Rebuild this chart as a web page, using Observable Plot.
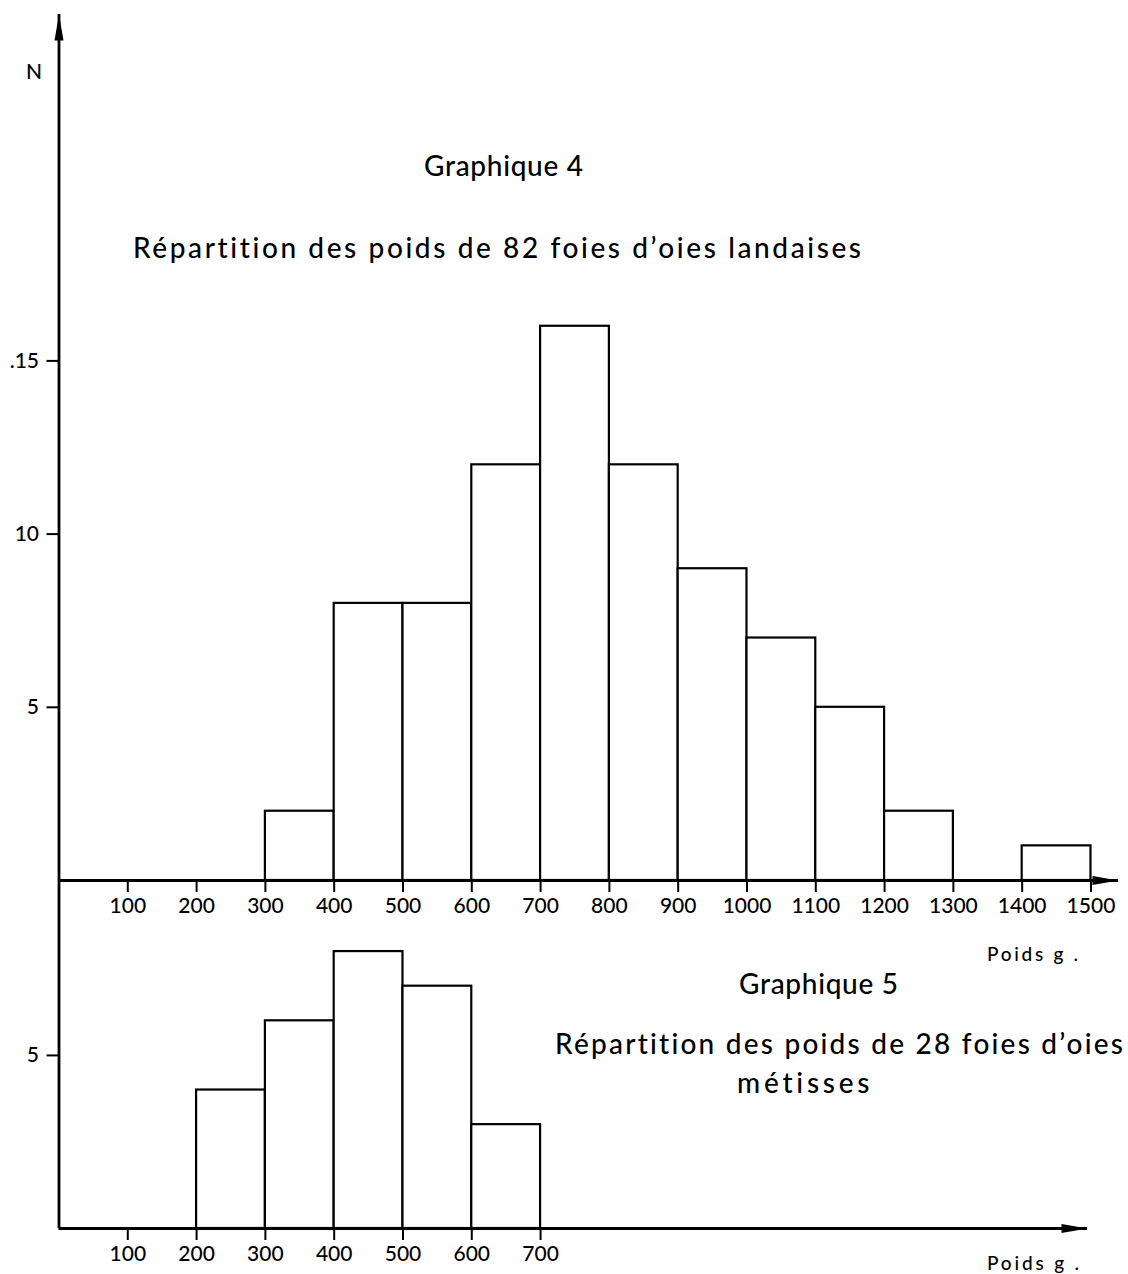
<!DOCTYPE html>
<html><head><meta charset="utf-8">
<script src="https://cdn.jsdelivr.net/npm/d3@7"></script>
<script src="https://cdn.jsdelivr.net/npm/@observablehq/plot@0.6"></script>
<style>
html,body{margin:0;padding:0;background:#fff;}
#wrap{position:relative;width:1128px;height:1274px;font-family:Lato,"DejaVu Sans",sans-serif;color:#000;overflow:hidden;}
#wrap svg{position:absolute;left:0;}
.lbl{position:absolute;white-space:nowrap;line-height:1;}
</style></head><body><div id="wrap"></div>
<script>
// ---- data ----
const binStart4 = [300, 400, 500, 600, 700, 800, 900, 1000, 1100, 1200, 1300, 1400];
const counts4   = [2, 8, 8, 12, 16, 12, 9, 7, 5, 2, 0, 1];
const binStart5 = [200, 300, 400, 500, 600];
const counts5   = [4, 6, 8, 7, 3];
const binWidth = 100;
const xTicks4 = [100, 200, 300, 400, 500, 600, 700, 800, 900, 1000, 1100, 1200, 1300, 1400, 1500];
const xTicks5 = [100, 200, 300, 400, 500, 600, 700];
const yTicks4 = [5, 10, 15];
const yTickLabels4 = ["5", "10", ".15"];
const yTicks5 = [5];
const yTickLabels5 = ["5"];
const yAxisLabel = "N";
const xAxisLabel = "Poids g .";
const title4 = "Graphique 4";
const subtitle4 = "Répartition des poids de 82 foies d’oies landaises";
const title5 = "Graphique 5";
const subtitle5a = "Répartition des poids de 28 foies d’oies";
const subtitle5b = "métisses";

const data4 = binStart4.map((s, i) => ({x0: s, x1: s + binWidth, n: counts4[i]}));
const data5 = binStart5.map((s, i) => ({x0: s, x1: s + binWidth, n: counts5[i]}));

const arrowRight = {draw(ctx) { ctx.moveTo(0, 0); ctx.lineTo(-26, -4.5); ctx.lineTo(-26, 4.5); ctx.closePath(); }};
const arrowUp = {draw(ctx) { ctx.moveTo(0, 0); ctx.lineTo(-4.5, 26); ctx.lineTo(4.5, 26); ctx.closePath(); }};

const font = {fontFamily: "Lato, 'DejaVu Sans', sans-serif", fontSize: "21px", background: "transparent", color: "#000", overflow: "visible"};
const tickText = {fontSize: 21, fontWeight: 500};

const xMax4 = 1540, yMax4 = 25.0;
const chart4 = Plot.plot({
  width: 1128, height: 940,
  marginLeft: 58.5, marginRight: 10, marginTop: 14, marginBottom: 60,
  style: font,
  x: {domain: [0, xMax4], label: null},
  y: {domain: [0, yMax4], label: null},
  marks: [
    Plot.rectY(data4, {x1: "x0", x2: "x1", y: "n", fill: "white", stroke: "black", strokeWidth: 2.2, insetLeft: 0, insetRight: 0}),
    Plot.axisX({ticks: xTicks4, tickSize: 12, tickPadding: 6, strokeWidth: 2, tickFormat: d => String(d), label: null, ...tickText}),
    Plot.axisY({ticks: yTicks4, tickSize: 12, tickPadding: 8, strokeWidth: 2, tickFormat: d => yTickLabels4[yTicks4.indexOf(d)], label: null, ...tickText}),
    Plot.ruleY([0], {strokeWidth: 2.8}),
    Plot.ruleX([0], {strokeWidth: 2.8, insetBottom: -60}),
    Plot.dot([{x: xMax4, y: 0}], {x: "x", y: "y", symbol: arrowRight, fill: "black", stroke: "none"}),
    Plot.dot([{x: 0, y: yMax4}], {x: "x", y: "y", symbol: arrowUp, fill: "black", stroke: "none"})
  ]
});
chart4.style.top = "0px";

const xMax5 = 1495, yMax5 = 8.32;
const chart5 = Plot.plot({
  width: 1128, height: 334,
  marginLeft: 58.5, marginRight: 41, marginTop: 0, marginBottom: 46,
  style: font,
  x: {domain: [0, xMax5], label: null},
  y: {domain: [0, yMax5], label: null},
  marks: [
    Plot.rectY(data5, {x1: "x0", x2: "x1", y: "n", fill: "white", stroke: "black", strokeWidth: 2.2, insetLeft: 0, insetRight: 0}),
    Plot.axisX({ticks: xTicks5, tickSize: 12, tickPadding: 6, strokeWidth: 2, tickFormat: d => String(d), label: null, ...tickText}),
    Plot.axisY({ticks: yTicks5, tickSize: 12, tickPadding: 8, strokeWidth: 2, tickFormat: d => yTickLabels5[yTicks5.indexOf(d)], label: null, ...tickText}),
    Plot.ruleY([0], {strokeWidth: 2.8}),
    Plot.ruleX([0], {strokeWidth: 2.8}),
    Plot.dot([{x: xMax5, y: 0}], {x: "x", y: "y", symbol: arrowRight, fill: "black", stroke: "none"})
  ]
});
chart5.style.top = "940px";

const wrap = document.getElementById("wrap");
wrap.appendChild(chart4);
wrap.appendChild(chart5);

// text labels: [text, left, right, centerY, fontSize]
const labels = [
  [yAxisLabel, 26, 40, 70, 21],
  [title4, 424, 583, 165, 28],
  [subtitle4, 133, 862, 247, 28],
  [xAxisLabel, 987, 1078, 953, 19],
  [title5, 739, 898, 983, 28],
  [subtitle5a, 555, 1124, 1043, 28],
  [subtitle5b, 737, 870, 1082, 28],
  [xAxisLabel, 987, 1079, 1262, 19]
];
for (const [t, l, r, cy, fs] of labels) {
  const d = document.createElement("div");
  d.className = "lbl";
  d.textContent = t;
  d.style.fontSize = fs + "px";
  d.style.fontWeight = 500;
  d.style.left = l + "px";
  d.style.top = (cy - fs / 2) + "px";
  wrap.appendChild(d);
  const w = d.getBoundingClientRect().width;
  if (t.length > 1) d.style.letterSpacing = ((r - l - w) / (t.length - 1)) + "px";
}
</script></body></html>
